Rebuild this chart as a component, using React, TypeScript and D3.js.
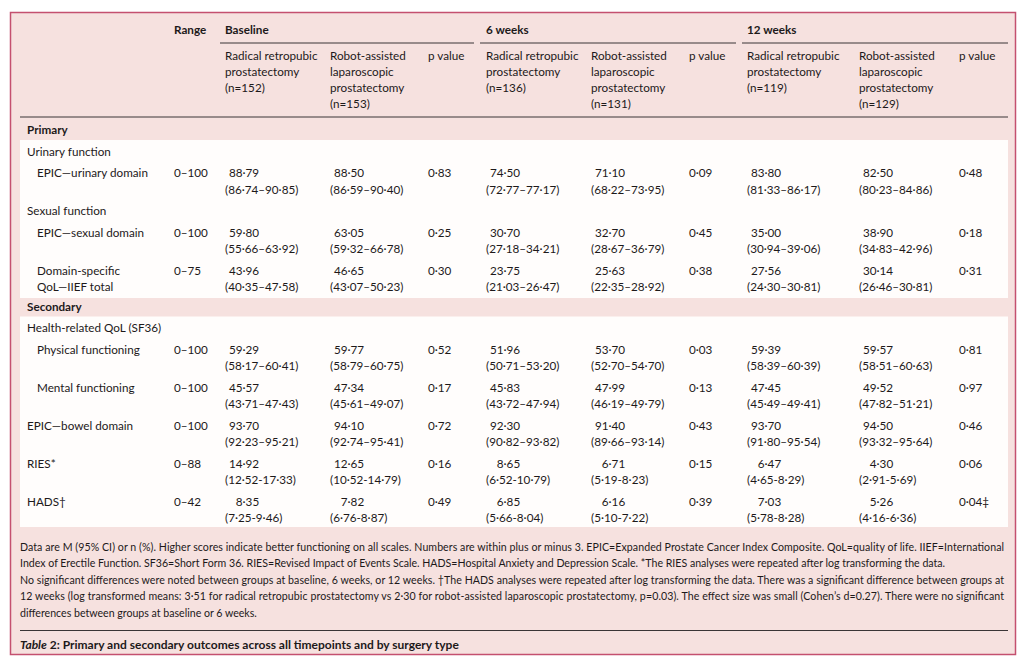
import React from "react";
import * as d3 from "d3";

// ---------- DATA ----------
const timepoints = ["Baseline", "6 weeks", "12 weeks"];
const groupLabelLines = [
  ["Radical retropubic", "prostatectomy"],
  ["Robot-assisted", "laparoscopic", "prostatectomy"],
];
const groupN = [
  [152, 153],
  [136, 131],
  [119, 129],
];

const measures = [
  ["EPIC—urinary domain"],
  ["EPIC—sexual domain"],
  ["Domain-specific", "QoL—IIEF total"],
  ["Physical functioning"],
  ["Mental functioning"],
  ["EPIC—bowel domain"],
  ["RIES*"],
  ["HADS†"],
];
const ranges = ["0–100", "0–100", "0–75", "0–100", "0–100", "0–100", "0–88", "0–42"];

const baselineRRP = [88.79, 59.8, 43.96, 59.29, 45.57, 93.7, 14.92, 8.35];
const baselineRRPci = ["86·74–90·85", "55·66–63·92", "40·35–47·58", "58·17–60·41", "43·71–47·43", "92·23–95·21", "12·52-17·33", "7·25-9·46"];
const baselineRALP = [88.5, 63.05, 46.65, 59.77, 47.34, 94.1, 12.65, 7.82];
const baselineRALPci = ["86·59–90·40", "59·32–66·78", "43·07–50·23", "58·79–60·75", "45·61–49·07", "92·74–95·41", "10·52-14·79", "6·76-8·87"];
const baselineP = ["0·83", "0·25", "0·30", "0·52", "0·17", "0·72", "0·16", "0·49"];

const week6RRP = [74.5, 30.7, 23.75, 51.96, 45.83, 92.3, 8.65, 6.85];
const week6RRPci = ["72·77–77·17", "27·18–34·21", "21·03–26·47", "50·71–53·20", "43·72–47·94", "90·82–93·82", "6·52-10·79", "5·66-8·04"];
const week6RALP = [71.1, 32.7, 25.63, 53.7, 47.99, 91.4, 6.71, 6.16];
const week6RALPci = ["68·22–73·95", "28·67–36·79", "22·35–28·92", "52·70–54·70", "46·19–49·79", "89·66–93·14", "5·19-8·23", "5·10-7·22"];
const week6P = ["0·09", "0·45", "0·38", "0·03", "0·13", "0·43", "0·15", "0·39"];

const week12RRP = [83.8, 35.0, 27.56, 59.39, 47.45, 93.7, 6.47, 7.03];
const week12RRPci = ["81·33–86·17", "30·94–39·06", "24·30–30·81", "58·39–60·39", "45·49–49·41", "91·80–95·54", "4·65-8·29", "5·78-8·28"];
const week12RALP = [82.5, 38.9, 30.14, 59.57, 49.52, 94.5, 4.3, 5.26];
const week12RALPci = ["80·23–84·86", "34·83–42·96", "26·46–30·81", "58·51–60·63", "47·82–51·21", "93·32–95·64", "2·91-5·69", "4·16-6·36"];
const week12P = ["0·48", "0·18", "0·31", "0·81", "0·97", "0·46", "0·06", "0·04‡"];

// row structure: section / group heading / measure (index into arrays) with indent
const rowSpec: { kind: "section" | "group" | "measure"; label?: string; m?: number; indent?: boolean }[] = [
  { kind: "section", label: "Primary" },
  { kind: "group", label: "Urinary function" },
  { kind: "measure", m: 0, indent: true },
  { kind: "group", label: "Sexual function" },
  { kind: "measure", m: 1, indent: true },
  { kind: "measure", m: 2, indent: true },
  { kind: "section", label: "Secondary" },
  { kind: "group", label: "Health-related QoL (SF36)" },
  { kind: "measure", m: 3, indent: true },
  { kind: "measure", m: 4, indent: true },
  { kind: "measure", m: 5 },
  { kind: "measure", m: 6 },
  { kind: "measure", m: 7 },
];

const footnoteLines = [
  "Data are M (95% CI) or n (%). Higher scores indicate better functioning on all scales. Numbers are within plus or minus 3. EPIC=Expanded Prostate Cancer Index Composite. QoL=quality of life. IIEF=International",
  "Index of Erectile Function. SF36=Short Form 36. RIES=Revised Impact of Events Scale. HADS=Hospital Anxiety and Depression Scale. *The RIES analyses were repeated after log transforming the data.",
  "No significant differences were noted between groups at baseline, 6 weeks, or 12 weeks. †The HADS analyses were repeated after log transforming the data. There was a significant difference between groups at",
  "12 weeks (log transformed means: 3·51 for radical retropubic prostatectomy vs 2·30 for robot-assisted laparoscopic prostatectomy, p=0.03). The effect size was small (Cohen’s d=0.27). There were no significant",
  "differences between groups at baseline or 6 weeks.",
];
const footnoteJustify = [true, false, true, true, false];
const captionItalic = "Table";
const captionRest = " 2: Primary and secondary outcomes across all timepoints and by surgery type";

// ---------- STYLE ----------
const W = 1024;
const H = 666;
const FONT = "Lato, 'Open Sans', sans-serif";
const FS = 11.7;
const TEXT = "#1d191a";
const BG = "#f6e1df";
const BORDER = "#c4506f";
const PANEL = "#fffdfc";
const RULE = "#3a3536";

const fmt = (v: number) => d3.format(".2f")(v).replace(".", "·");

const seriesMeans = [
  [baselineRRP, baselineRALP],
  [week6RRP, week6RALP],
  [week12RRP, week12RALP],
];
const seriesCI = [
  [baselineRRPci, baselineRALPci],
  [week6RRPci, week6RALPci],
  [week12RRPci, week12RALPci],
];
const seriesP = [baselineP, week6P, week12P];

export default function App() {
  // column positions
  const xRange = 174;
  const groupX = [
    [225, 330, 428],
    [486, 591, 689],
    [747, 859, 959],
  ];
  const groupRule = [
    [220, 474],
    [480, 736],
    [742, 1008],
  ];
  const left = 20;
  const right = 1008;

  // vertical layout
  const lineH = 16.5;
  const ys: number[] = [];
  let y = 130;
  rowSpec.forEach((r, i) => {
    if (i > 0) {
      const prev = rowSpec[i - 1];
      if (prev.kind === "measure") y += r.kind === "section" ? 36 : 38;
      else y += 21.5;
    }
    ys.push(y);
  });
  const lastY = ys[ys.length - 1] + lineH;
  const sectionIdx = rowSpec.map((r, i) => (r.kind === "section" ? i : -1)).filter((i) => i >= 0);
  const panels = sectionIdx.map((si, k) => {
    const top = ys[si] + 10;
    const bottom = k + 1 < sectionIdx.length ? ys[sectionIdx[k + 1]] - 8.5 : lastY + 9;
    return { top, bottom };
  });

  const footY0 = 547;
  const footStep = 16.5;
  const footRuleY = 630.5;
  const captionY = 644.5;

  const digitW = FS * 0.58;

  return (
    <svg width={W} height={H} style={{ position: "absolute", left: 0, top: 0 }} fontFamily={FONT}>
      <rect x={0} y={0} width={W} height={H} fill="#ffffff" />
      <rect x={10.5} y={12.5} width={1005} height={642} fill={BG} stroke={BORDER} strokeWidth={1.5} />
      {panels.map((p, i) => (
        <rect key={i} x={left} y={p.top} width={right - left} height={p.bottom - p.top} fill={PANEL} />
      ))}

      {/* header */}
      <g fontSize={FS} fill={TEXT}>
        <text x={xRange} y={30} dy="0.35em" fontWeight={700}>Range</text>
        {timepoints.map((t, ti) => (
          <g key={t}>
            <text x={groupX[ti][0]} y={30} dy="0.35em" fontWeight={700}>{t}</text>
            <line x1={groupRule[ti][0]} x2={groupRule[ti][1]} y1={43} y2={43} stroke={RULE} strokeWidth={1} />
            {[0, 1].map((g) => {
              const lines = [...groupLabelLines[g], `(n=${groupN[ti][g]})`];
              return lines.map((l, li) => (
                <text key={g + "-" + li} x={groupX[ti][g]} y={56 + li * 16} dy="0.35em">{l}</text>
              ));
            })}
            <text x={groupX[ti][2]} y={56} dy="0.35em">p value</text>
          </g>
        ))}
        <line x1={left} x2={right} y1={117} y2={117} stroke={RULE} strokeWidth={1} />
      </g>

      {/* body */}
      <g fontSize={FS} fill={TEXT}>
        {rowSpec.map((r, i) => {
          const yy = ys[i];
          if (r.kind === "section")
            return (
              <text key={i} x={27} y={yy} dy="0.35em" fontWeight={700}>{r.label}</text>
            );
          if (r.kind === "group")
            return (
              <text key={i} x={27} y={yy} dy="0.35em">{r.label}</text>
            );
          const m = r.m as number;
          const lx = r.indent ? 37 : 27;
          return (
            <g key={i}>
              {measures[m].map((l, li) => (
                <text key={li} x={lx} y={yy + li * lineH} dy="0.35em">{l}</text>
              ))}
              <text x={xRange} y={yy} dy="0.35em">{ranges[m]}</text>
              {timepoints.map((_, ti) => (
                <g key={ti}>
                  {[0, 1].map((g) => {
                    const v = seriesMeans[ti][g][m];
                    const shift = 4 + (v < 10 ? digitW : 0);
                    return (
                      <g key={g}>
                        <text x={groupX[ti][g] + shift} y={yy} dy="0.35em">{fmt(v)}</text>
                        <text x={groupX[ti][g]} y={yy + lineH} dy="0.35em">({seriesCI[ti][g][m]})</text>
                      </g>
                    );
                  })}
                  <text x={groupX[ti][2]} y={yy} dy="0.35em">{seriesP[ti][m]}</text>
                </g>
              ))}
            </g>
          );
        })}
      </g>

      {/* footnotes */}
      <g fontSize={10.6} fill={TEXT}>
        {footnoteLines.map((l, i) => (
          <text
            key={i}
            x={left}
            y={footY0 + i * footStep}
            dy="0.35em"
            {...(footnoteJustify[i] ? { textLength: 984, lengthAdjust: "spacing" } : {})}
          >
            {l}
          </text>
        ))}
        <line x1={left} x2={right} y1={footRuleY} y2={footRuleY} stroke={RULE} strokeWidth={1} />
        <text x={left} y={captionY} dy="0.35em" fontSize={12} fontWeight={700}>
          <tspan fontStyle="italic">{captionItalic}</tspan>
          <tspan>{captionRest}</tspan>
        </text>
      </g>
    </svg>
  );
}
